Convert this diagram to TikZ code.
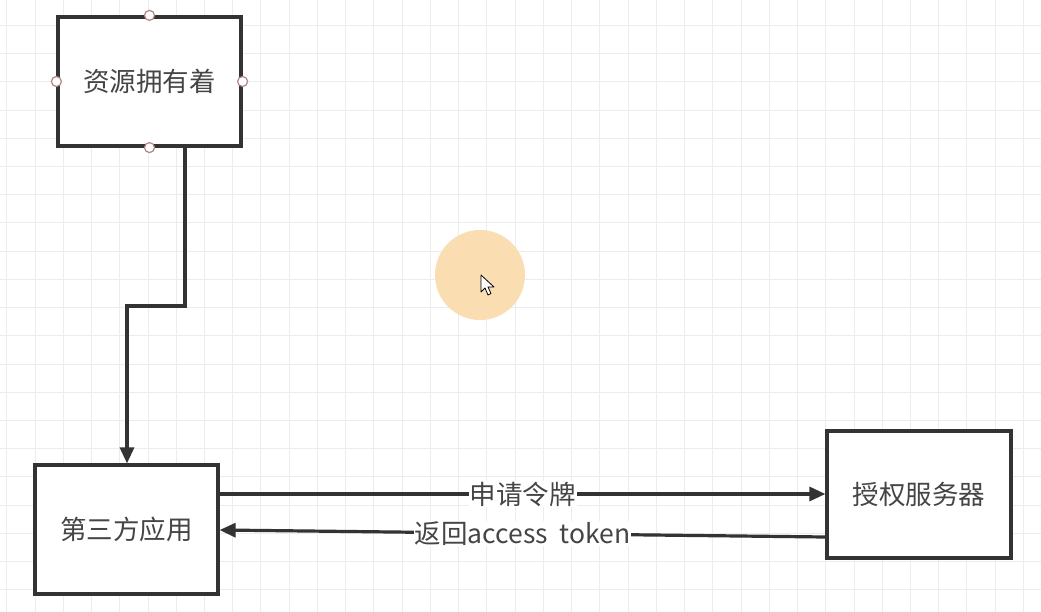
\documentclass[tikz,border=0pt]{standalone}
\usepackage{fontspec}
\setmainfont{Noto Sans CJK SC}
\usetikzlibrary{arrows.meta}
\definecolor{gridc}{HTML}{ECECEC}
\definecolor{linec}{HTML}{333333}
\definecolor{txtc}{HTML}{454545}
\definecolor{handlec}{HTML}{B08585}
\definecolor{peach}{HTML}{FADDB0}
\tikzset{
  box/.style={draw=linec, line width=3.2pt, fill=white, text=txtc, inner sep=0pt,
    font=\fontsize{26.5}{30}\selectfont},
  conn/.style={draw=linec, line width=3.2pt, -{Triangle[length=16pt,width=14pt]}},
  lbl/.style={fill=white, text=txtc, inner sep=1pt, font=\fontsize{26.5}{30}\selectfont},
  handle/.style={circle, draw=handlec, fill=white, line width=1.2pt, minimum size=10pt, inner sep=0pt}
}
\begin{document}
\begin{tikzpicture}[x=1pt,y=-1pt]
\useasboundingbox (0,0) rectangle (1041,612);
\fill[white] (0,0) rectangle (1041,612);
% grid
\foreach \i in {0,...,37} {
  \draw[gridc, line width=1pt] ({6.8+28.24*\i},0) -- ({6.8+28.24*\i},612);
}
\foreach \j in {0,...,21} {
  \draw[gridc, line width=1pt] (0,{25.6+28.2*\j}) -- (1041,{25.6+28.2*\j});
}
% boxes
\node[box, minimum width=183pt, minimum height=129pt] (owner) at (149.5,81.5) {资源拥有着};
\node[box, minimum width=183pt, minimum height=129pt] (app) at (126.5,529.5) {第三方应用};
\node[box, minimum width=184pt, minimum height=127pt] (auth) at (919,494.5) {授权服务器};
% connector owner -> app
\coordinate (bend) at (127,306);
\draw[conn] ([xshift=35.5pt]owner.south) |- (bend) -- (bend |- app.north);
% handles
\foreach \a in {north,south,east,west} { \node[handle] (h-\a) at (owner.\a) {}; }
% arrows between app and auth
\draw[conn] (app.east |- 0,494) -- node[lbl] (l1) {申请令牌} (auth.west |- 0,494);
\draw[conn] (auth.west |- 0,537) -- node[lbl] (l2) {返回access\hspace{0.45em}token} (app.east |- 0,530);
% cursor highlight
\fill[peach] (480,275) circle (45);
\draw[black, fill=white, line width=0.8pt, line join=round]
  (481,275) -- ++(0,17) -- ++(4,-4) -- ++(3,7) -- ++(3,-1.5) -- ++(-3,-6.5) -- ++(6,0) -- cycle;
\end{tikzpicture}
\end{document}
